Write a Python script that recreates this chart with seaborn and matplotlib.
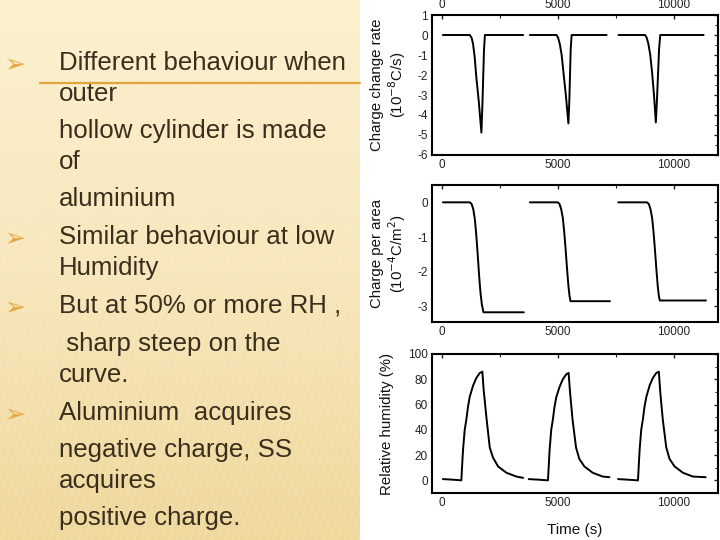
import numpy as np
import pandas as pd
import matplotlib
matplotlib.use("Agg")
import matplotlib.pyplot as plt
from matplotlib.ticker import MultipleLocator
import seaborn as sns

# ---- data (three humidity cycles, time in s) ----
rate_t = [
    [40, 1200, 1280, 1340, 1410, 1480, 1585, 1700, 1740, 1770, 1810, 1850, 3500],
    [3790, 4940, 5010, 5080, 5160, 5240, 5340, 5450, 5490, 5515, 5550, 5590, 7100],
    [7610, 8760, 8830, 8900, 8980, 9060, 9140, 9220, 9270, 9310, 9360, 9410, 11280],
]
rate_v = [
    [0, 0, -0.15, -0.45, -1.1, -2.1, -3.3, -4.88, -3.6, -2.4, -0.8, 0, 0],
    [0, 0, -0.15, -0.45, -1.0, -1.9, -3.0, -4.42, -3.3, -2.2, -0.7, 0, 0],
    [0, 0, -0.15, -0.45, -1.0, -1.9, -3.0, -4.37, -3.2, -2.1, -0.7, 0, 0],
]

charge_t = [
    [40, 1200, 1280, 1350, 1420, 1480, 1540, 1600, 1660, 1720, 1790, 3530],
    [3790, 4990, 5070, 5140, 5210, 5270, 5330, 5390, 5450, 5500, 5540, 7240],
    [7600, 8840, 8920, 8990, 9060, 9120, 9180, 9240, 9300, 9350, 9390, 11380],
]
charge_v = [
    [0, 0, -0.05, -0.2, -0.5, -0.95, -1.5, -2.1, -2.6, -2.95, -3.17, -3.17],
    [0, 0, -0.05, -0.2, -0.45, -0.85, -1.35, -1.9, -2.4, -2.7, -2.85, -2.85],
    [0, 0, -0.05, -0.2, -0.45, -0.85, -1.35, -1.9, -2.4, -2.7, -2.83, -2.83],
]

rh_t = [
    [40, 500, 835, 870, 907, 980, 1050, 1120, 1195, 1340, 1480, 1630, 1740, 1800, 1915,
     2060, 2200, 2420, 2780, 3210, 3500],
    [3740, 4200, 4570, 4605, 4640, 4710, 4780, 4850, 4930, 5070, 5210, 5360, 5460, 5520, 5630,
     5780, 5920, 6140, 6500, 6930, 7220],
    [7590, 8050, 8450, 8485, 8520, 8590, 8660, 8730, 8810, 8950, 9090, 9240, 9350, 9410, 9520,
     9670, 9810, 10030, 10390, 10820, 11370],
]
rh_v = [
    [1, 0.5, 0, 12, 24, 40, 48, 58, 66, 75, 81, 85, 86, 71, 50, 26, 18, 11, 6, 3, 2],
    [1, 0.5, 0, 12, 24, 40, 48, 58, 66, 74, 80, 84, 85, 70, 48, 26, 17, 11, 6, 3, 2.5],
    [1, 0.5, 0, 12, 24, 40, 48, 58, 66, 75, 81, 85, 86, 70, 48, 26, 17, 11, 6, 3, 2.5],
]

bullet_lines = [
    ("Different behaviour when", True),
    ("outer", False),
    ("hollow cylinder is made", False),
    ("of", False),
    ("aluminium", False),
    ("Similar behaviour at low", True),
    ("Humidity", False),
    ("But at 50% or more RH ,", True),
    (" sharp steep on the", False),
    ("curve.", False),
    ("Aluminium  acquires", True),
    ("negative charge, SS", False),
    ("acquires", False),
    ("positive charge.", False),
]
line_y = [63, 94, 131, 162, 199, 237, 268, 306, 344, 375, 413, 450, 481, 518]


def to_frame(ts, vs):
    rows = []
    for k, (t, v) in enumerate(zip(ts, vs)):
        for a, b in zip(t, v):
            rows.append({"t": a, "v": b, "cycle": k})
    return pd.DataFrame(rows)


sns.set_theme(style="white")
plt.rcParams["font.family"] = ["Liberation Sans", "DejaVu Sans"]
plt.rcParams["axes.unicode_minus"] = False

W, H = 720, 540
fig = plt.figure(figsize=(7.2, 5.4), dpi=100)
fig.patch.set_facecolor("white")

# slide background on the left half
bg = fig.add_axes([0, 0, 0.5, 1])
grad = np.linspace(0, 1, 256)[:, None]
cmap = matplotlib.colors.LinearSegmentedColormap.from_list("cream", ["#FCF0CE", "#F8E7BC", "#EFD89C"])
bg.imshow(grad, aspect="auto", cmap=cmap, extent=[0, 360, 540, 0])
for x0 in range(-300, 420, 7):
    bg.plot([x0, x0 + 160], [540, 30], color="white", alpha=0.18, lw=0.8)
bg.set_xlim(0, 360)
bg.set_ylim(540, 0)
bg.axis("off")

# text column
txt = fig.add_axes([0, 0, 1, 1], facecolor="none")
txt.set_xlim(0, W)
txt.set_ylim(H, 0)
txt.axis("off")
txt.plot([40, 360], [83, 83], color="#E3A43C", lw=1.6)
for (s, bullet), y in zip(bullet_lines, line_y):
    txt.text(59, y, s, fontsize=18.6, color="#3A2E1C", va="center", ha="left")
    if bullet:
        txt.text(15, y + 1, "\u27a2", fontsize=18, color="#E6A640", va="center", ha="center",
                 family=["DejaVu Sans"])

# chart panels
left, width = 432 / W, 286 / W
panels = [
    (15, 155, to_frame(rate_t, rate_v), (-6, 1), 1,
     "Charge change rate\n(10$^{-8}$C/s)", 7),
    (185, 322, to_frame(charge_t, charge_v), (-3.45, 0.5), 1,
     "Charge per area\n(10$^{-4}$C/m$^{2}$)", 7),
    (354, 493, to_frame(rh_t, rh_v), (-10, 100), 20,
     "Relative humidity (%)", 10),
]
for i, (top, bot, df, ylim, ystep, ylab, lpad) in enumerate(panels):
    ax = fig.add_axes([left, 1 - bot / H, width, (bot - top) / H])
    sns.lineplot(data=df, x="t", y="v", units="cycle", estimator=None,
                 color="black", lw=1.4, ax=ax, sort=False)
    ax.set_xlim(-430, 11900)
    ax.set_ylim(*ylim)
    ax.xaxis.set_major_locator(MultipleLocator(5000))
    ax.xaxis.set_minor_locator(MultipleLocator(2500))
    ax.yaxis.set_major_locator(MultipleLocator(ystep))
    ax.yaxis.set_minor_locator(MultipleLocator(ystep / 2))
    ax.tick_params(which="both", direction="in", top=True, right=True,
                   labelsize=8.5, colors="#222222", pad=3)
    ax.tick_params(which="major", length=3, width=1)
    ax.tick_params(which="minor", length=2, width=0.8)
    if i == 0:
        ax.tick_params(labeltop=True)
    for sp in ax.spines.values():
        sp.set_color("black")
        sp.set_linewidth(1.5)
    ax.set_ylabel(ylab, fontsize=10.8, color="#111111", labelpad=lpad, linespacing=1.1)
    ax.set_xlabel("Time (s)" if i == 2 else "", fontsize=11, color="#111111", labelpad=10)
    ax.set_facecolor("white")

fig.savefig("out.png", dpi=100)
